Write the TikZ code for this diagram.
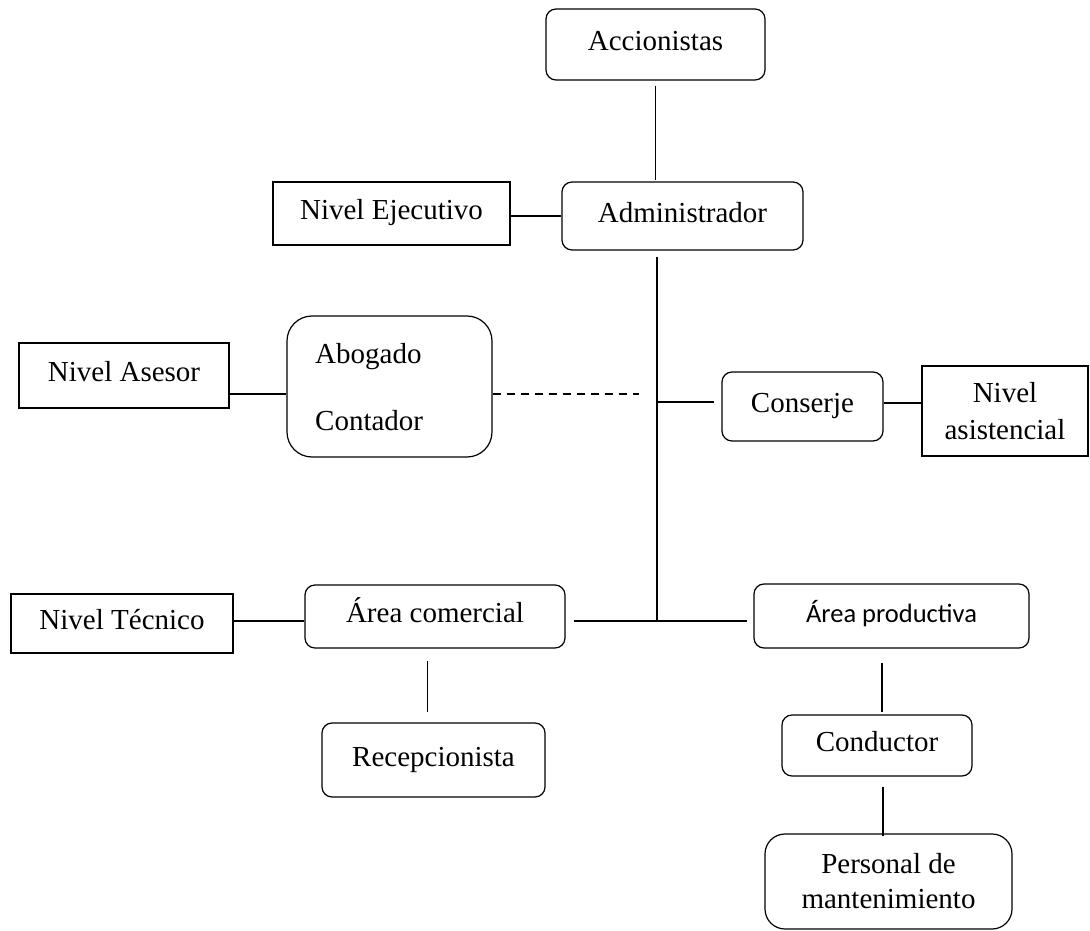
\documentclass[tikz,border=0pt]{standalone}
\usepackage{fontspec}
\setmainfont{Liberation Serif}
\newfontfamily\calib{Carlito}
\usetikzlibrary{calc}
\begin{document}
\begin{tikzpicture}[x=1pt,y=-1pt,
  base/.style={font=\fontsize{29}{35}\selectfont, inner sep=0pt},
  one/.style={text height=19.5pt, text depth=7pt},
  rbox/.style={base, draw, rounded corners=10pt, line width=1.2pt},
  lbox/.style={base, draw, line width=2.6pt},
  txt/.style={base},
  conn/.style={line width=1.2pt},
  dashline/.style={line width=1.8pt, dash pattern=on 8pt off 6pt}]
\useasboundingbox (0,0) rectangle (1090,931);

\node[rbox, one, minimum width=219pt, minimum height=71pt] (acc) at (655.5,44.5) {Accionistas};
\node[rbox, one, minimum width=241pt, minimum height=68pt] (adm) at (682.5,216) {Administrador};
\node[lbox, one, minimum width=237pt, minimum height=63pt] (nej) at (391.5,213.5) {Nivel Ejecutivo};
\node[lbox, one, minimum width=210pt, minimum height=65pt] (nas) at (124,375.5) {Nivel Asesor};
\node[rbox, rounded corners=25pt, minimum width=205pt, minimum height=141pt] (abc) at (389.5,386.5) {};
\node[txt, anchor=base west] (abo) at (315,363) {Abogado};
\node[txt, anchor=base west] (cont) at (315,430) {Contador};
\node[rbox, one, minimum width=161pt, minimum height=69pt] (con) at (802.5,406.5) {Conserje};
\node[lbox, minimum width=166pt, minimum height=90pt, align=center, font=\fontsize{29}{37}\selectfont] (nasi) at (1005,411) {Nivel\\asistencial};
\node[lbox, one, minimum width=222pt, minimum height=59pt] (ntec) at (122,623.5) {Nivel Técnico};
\node[rbox, one, minimum width=260pt, minimum height=63pt] (acom) at (435,616.5) {Área comercial};
\node[rbox, one, minimum width=223pt, minimum height=74pt] (rec) at (433.5,760) {Recepcionista};
\node[rbox, one, minimum width=275pt, minimum height=64pt, font=\calib\fontsize{26.5}{32}\selectfont] (apro) at (891.5,616) {Área productiva};
\node[rbox, one, minimum width=190pt, minimum height=61pt] (cond) at (877,745.5) {Conductor};
\node[rbox, rounded corners=20pt, minimum width=247pt, minimum height=95pt, align=center] (pers) at (888.5,881.5) {Personal de\\mantenimiento};

\coordinate (hub) at (657,621);
\coordinate (cj) at (657,402);
\coordinate (dend) at (639,394);

\draw[conn, shorten <=5pt, shorten >=1pt] (acc.south) -- (acc.south |- adm.north);
\draw[conn] (nej.east |- adm.west) -- (adm.west);
\draw[conn, shorten <=6pt] (adm.south -| hub) -- (hub);
\draw[dashline] (abc.east |- dend) -- (dend);
\draw[conn] (nas.east |- dend) -- (abc.west |- dend);
\draw[conn, shorten >=7pt] (cj) -- (cj -| con.west);
\draw[conn] ($(con.east)+(0,-3.5)$) -- ($(nasi.west |- con.east)+(0,-3.5)$);
\draw[conn] (ntec.east |- hub) -- (acom.west |- hub);
\draw[conn, shorten <=8pt, shorten >=6pt] (acom.east |- hub) -- (apro.west |- hub);
\draw[conn, shorten <=12pt, shorten >=10pt] ([xshift=-7.5pt]acom.south) -- ([xshift=-7.5pt]acom.south |- rec.north);
\draw[conn, shorten <=14pt, shorten >=2pt] ([xshift=5pt]cond.north |- apro.south) -- ([xshift=5pt]cond.north);
\draw[conn, shorten <=10pt, shorten >=-3pt] ([xshift=6pt]cond.south) -- ([xshift=6pt]cond.south |- pers.north);
\end{tikzpicture}
\end{document}
